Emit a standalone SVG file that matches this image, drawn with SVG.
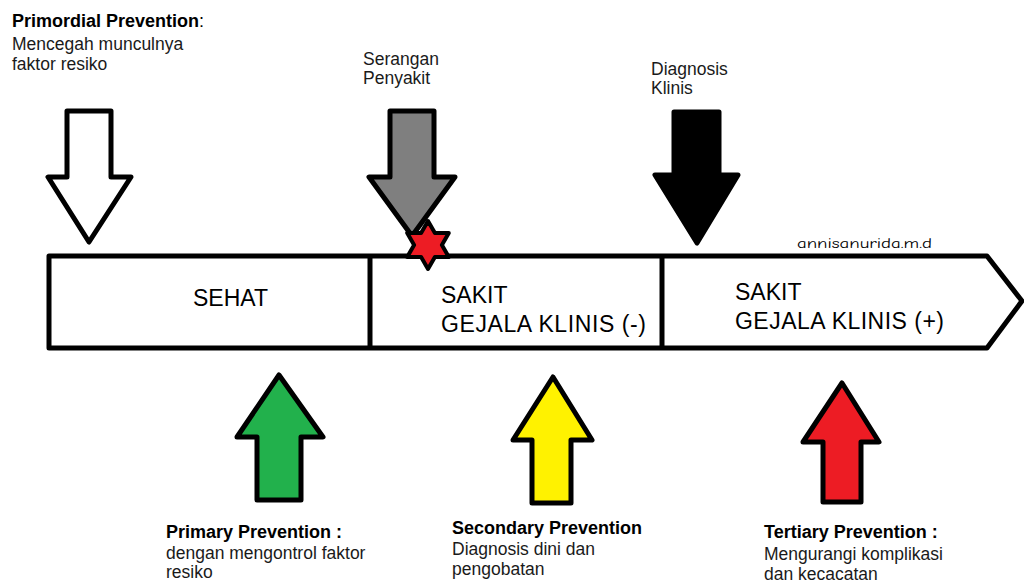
<svg xmlns="http://www.w3.org/2000/svg" width="1024" height="583" viewBox="0 0 1024 583">
<style>
.t{font-family:"Liberation Sans",Arial,sans-serif;font-size:17.5px;fill:#1a1a1a}
.b{font-weight:bold;fill:#000;font-size:18px}
.big{font-family:"Liberation Sans",Arial,sans-serif;font-size:23px;fill:#000}
.ol{stroke:#000;stroke-width:5;stroke-linejoin:round}
.sig{font-family:"Comic Sans MS","Comic Neue","DejaVu Sans",cursive;font-size:14px;fill:#000}
</style>
<rect width="1024" height="583" fill="#fff"/>

<g id="timeline">
  <polygon class="ol" points="49,256 987,256 1022,301 987,348 49,348" fill="#fff" stroke-linejoin="miter"/>
  <line x1="370" y1="256" x2="370" y2="348" stroke="#000" stroke-width="5"/>
  <line x1="662" y1="256" x2="662" y2="348" stroke="#000" stroke-width="5"/>
</g>
<g id="sehat"><text class="big" x="193" y="306">SEHAT</text></g>
<g id="sakit-neg"><text class="big" x="441" y="303">SAKIT</text><text class="big" x="441" y="332" textLength="205" lengthAdjust="spacing">GEJALA KLINIS (-)</text></g>
<g id="sakit-pos"><text class="big" x="735" y="300">SAKIT</text><text class="big" x="735" y="329" textLength="209" lengthAdjust="spacing">GEJALA KLINIS (+)</text></g>
<g id="signature"><text class="sig" x="797" y="248" textLength="135" lengthAdjust="spacingAndGlyphs">annisanurida.m.d</text></g>

<g id="connectors">
  <polygon id="arrow-primordial" class="ol" fill="#fff" points="67,111 111,111 111,177 131,177 89,242 48,177 67,177"/>
  <polygon id="arrow-serangan" class="ol" fill="#7f7f7f" points="390,111 434,111 434,177 455,177 412,236 369,177 390,177"/>
  <polygon id="arrow-diagnosis" class="ol" fill="#000" points="674,112 719,112 719,175 738,175 697,243 655,175 674,175"/>
  <polygon id="arrow-primary" class="ol" fill="#22b14c" points="279,375 323,437 301,437 301,500 257,500 257,437 237,437"/>
  <polygon id="arrow-secondary" class="ol" fill="#fff200" points="553,377 592,440 571,440 571,503 532,503 532,440 513,440"/>
  <polygon id="arrow-tertiary" class="ol" fill="#ed1c24" points="842,383 879,442 861,442 861,502 823,502 823,442 803,442"/>
</g>

<g id="star">
  <polygon fill="#ed1c24" stroke="#000" stroke-width="4" stroke-linejoin="round" points="428,221 434.9,233 448.8,233 441.9,245 448.8,257 434.9,257 428,269 421.1,257 407.2,257 414.1,245 407.2,233 421.1,233"/>
</g>

<g id="label-primordial">
  <text class="t b" x="12" y="27">Primordial Prevention<tspan font-weight="normal">:</tspan></text>
  <text class="t" x="12" y="50">Mencegah munculnya</text>
  <text class="t" x="12" y="70">faktor resiko</text>
</g>
<g id="label-serangan">
  <text class="t" x="363" y="65">Serangan</text>
  <text class="t" x="363" y="84">Penyakit</text>
</g>
<g id="label-diagnosis">
  <text class="t" x="651" y="75">Diagnosis</text>
  <text class="t" x="651" y="94">Klinis</text>
</g>
<g id="label-primary">
  <text class="t b" x="166" y="538">Primary Prevention :</text>
  <text class="t" x="166" y="559">dengan mengontrol faktor</text>
  <text class="t" x="166" y="578">resiko</text>
</g>
<g id="label-secondary">
  <text class="t b" x="452" y="534">Secondary Prevention</text>
  <text class="t" x="452" y="555">Diagnosis dini dan</text>
  <text class="t" x="452" y="575">pengobatan</text>
</g>
<g id="label-tertiary">
  <text class="t b" x="764" y="538">Tertiary Prevention :</text>
  <text class="t" x="764" y="560">Mengurangi komplikasi</text>
  <text class="t" x="764" y="580">dan kecacatan</text>
</g>
</svg>
